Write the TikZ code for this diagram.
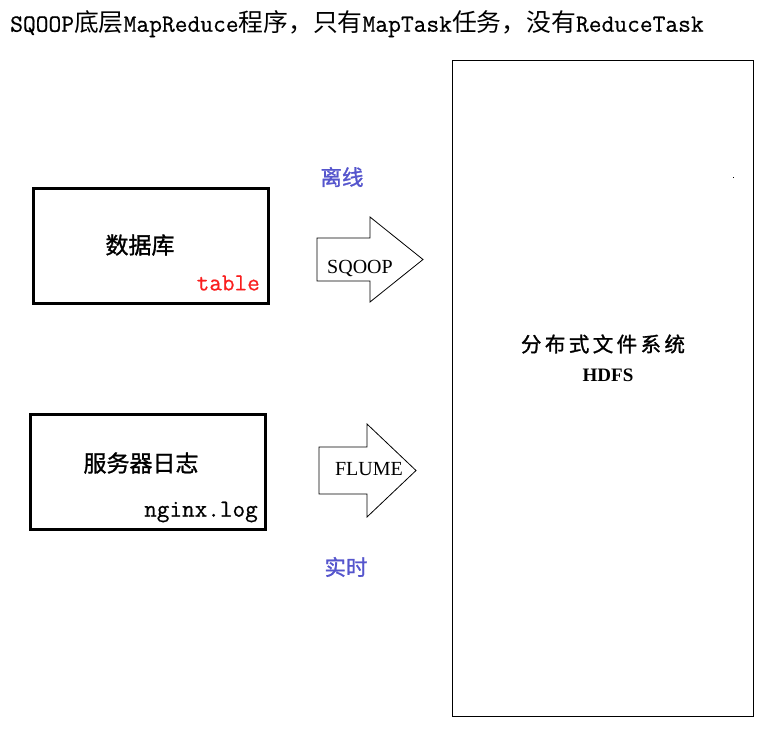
\documentclass[tikz,border=0pt]{standalone}
\usepackage{fontspec}
\setmainfont{Liberation Serif}
\newfontfamily\cjk{Noto Sans CJK SC}
\newfontfamily\cjkb{Noto Sans CJK SC}[FakeBold=1.2]
\newfontfamily\monoheavy{Latin Modern Mono}[FakeBold=0.6]
\definecolor{labblue}{RGB}{85,85,205}
\definecolor{labred}{RGB}{250,30,30}
\tikzset{
  srcbox/.style={draw=black,line width=3pt},
  blockarrow/.style={draw=black,line width=0.8pt,fill=white,line join=miter},
  bigcjk/.style={font=\cjkb\fontsize{23}{27}\selectfont},
  tag/.style={font=\monoheavy\fontsize{24.5}{27}\selectfont},
  arrowlab/.style={font=\fontsize{20}{23}\selectfont},
  bluelab/.style={font=\cjkb\fontsize{21.5}{25}\selectfont,text=labblue},
}
\begin{document}
\begin{tikzpicture}[x=1pt,y=-1pt]
\useasboundingbox (0,0) rectangle (776,739);
\fill[white] (0,0) rectangle (776,739);
% title
\node[anchor=west,inner sep=0pt] (title) at (10,24)
 {\fontsize{24.8}{27}\selectfont\monoheavy SQOOP{\cjk 底层}MapReduce{\cjk 程序，只有}MapTask{\cjk 任务，没有}ReduceTask};
% source boxes
\draw[srcbox] (33,188) rectangle (268,303);
\node[bigcjk] (db) at (140,245) {数据库};
\node[tag,text=labred,anchor=east,inner sep=0pt] (tbl) at (260,283) {table};
\draw[srcbox] (30,414) rectangle (265,529);
\node[bigcjk] (log) at (141,463) {服务器日志};
\node[tag,anchor=east,inner sep=0pt] (nginx) at (258,512) {nginx.log};
% arrows
\draw[blockarrow] (317,238) -- (370,238) -- (370,217) -- (423,259.5) -- (370,302) -- (370,281) -- (317,281) -- cycle;
\node[arrowlab] (sqoop) at (360,268) {SQOOP};
\node[bluelab] (offline) at (342,177) {离线};
\draw[blockarrow] (319,447) -- (367,447) -- (367,424) -- (416,470.5) -- (367,517) -- (367,494) -- (319,494) -- cycle;
\node[arrowlab] (flume) at (369,469) {FLUME};
\node[bluelab] (realtime) at (346,567) {实时};
% HDFS
\draw[black,line width=1pt] (452,60) rectangle (753,716);
\node[font=\cjkb\fontsize{20.5}{24}\selectfont] (hdfsname) at (603,344) {分\,布\,式\,文\,件\,系\,统};
\node[font=\bfseries\fontsize{19}{22}\selectfont] (hdfs) at (608,375) {HDFS};
\fill[black] (732.5,176.5) rectangle (734,178);
\end{tikzpicture}
\end{document}
